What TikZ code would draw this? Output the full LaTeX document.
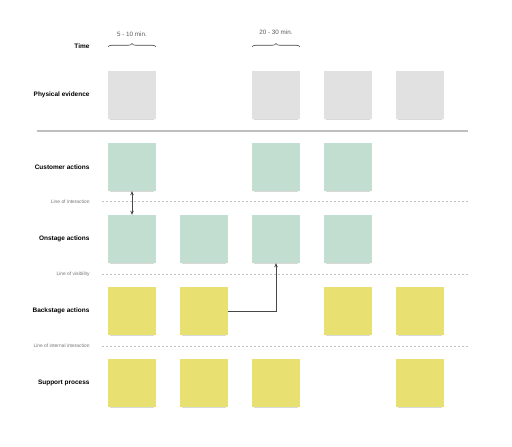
\documentclass[tikz,border=0pt]{standalone}
\usepackage{fontspec}
\setmainfont{Liberation Sans}
\usetikzlibrary{shadows,decorations.pathreplacing,arrows.meta}
\definecolor{evidgray}{RGB}{225,225,225}
\definecolor{actgreen}{RGB}{194,222,208}
\definecolor{procyellow}{RGB}{232,224,112}
\definecolor{inkgray}{RGB}{70,70,70}
\begin{document}
\begin{tikzpicture}[x=1bp,y=-1bp,
    note/.style={minimum size=48bp,inner sep=0pt,
        drop shadow={shadow xshift=0bp,shadow yshift=-4bp,shadow scale=0.9,opacity=.3}},
    rowlabel/.style={anchor=east,font=\bfseries\fontsize{6.5}{8}\selectfont,text=black},
    linelabel/.style={anchor=east,font=\fontsize{4.9}{6}\selectfont,text=black!55},
    timelabel/.style={font=\fontsize{6.3}{8}\selectfont,text=black!65},
    dotline/.style={draw=black!25,line width=1bp,dash pattern=on 1.5bp off 2.5bp},
    link/.style={draw=inkgray,line width=0.6bp},
    tip/.tip={Stealth[length=4bp,width=3.5bp]}]
    \useasboundingbox (0,0) rectangle (512,447);
    \path
    (37,131) coordinate (SL) (468,131) coordinate (SR)
    (102,202) coordinate (IL) (468,202) coordinate (IR)
    (102,274) coordinate (VL) (468,274) coordinate (VR)
    (102,346) coordinate (NL) (468,346) coordinate (NR)
    ;
    % row labels
    \foreach \n/\y/\t in {time/46/Time,phys/95/Physical evidence,cust/167/Customer actions,
        onst/239/Onstage actions,back/311/Backstage actions,supp/383/Support process}
        \node[rowlabel] (\n) at (93,\y) {\t};
    \node[linelabel] (inter) at (93,202) {Line of interaction};
    \node[linelabel] (visib) at (93,274) {Line of visibility};
    \node[linelabel] (intern) at (93,346) {Line of internal interaction};
    % separators
    \draw[black!25,line width=1.2bp] (SL)--(SR);
    \draw[dotline] (IL)--(IR) (VL)--(VR) (NL)--(NR);
    % sticky notes
    \foreach \c in {1,3,4,5}\node[note,fill=evidgray] (pe\c) at ({60+72*\c},95) {};
    \foreach \c in {1,3,4}\node[note,fill=actgreen] (ca\c) at ({60+72*\c},167) {};
    \foreach \c in {1,2,3,4}\node[note,fill=actgreen] (on\c) at ({60+72*\c},239) {};
    \foreach \c in {1,2,4,5}\node[note,fill=procyellow] (bs\c) at ({60+72*\c},311) {};
    \foreach \c in {1,2,3,5}\node[note,fill=procyellow] (sp\c) at ({60+72*\c},383) {};
    % durations
    \draw[inkgray,line width=0.6bp,decorate,decoration={brace,amplitude=3.5bp}] (108,47)--(156,47);
    \draw[inkgray,line width=0.6bp,decorate,decoration={brace,amplitude=3.5bp}] (252,47)--(300,47);
    \node[timelabel] (dur1) at (132,34) {5 - 10 min.};
    \node[timelabel] (dur2) at (276,32) {20 - 30 min.};
    % connectors
    \draw[link,tip-tip] (ca1.south)--(on1.north);
    \draw[link,-tip] (bs2.east)-|(on3.south);
\end{tikzpicture}
\end{document}
